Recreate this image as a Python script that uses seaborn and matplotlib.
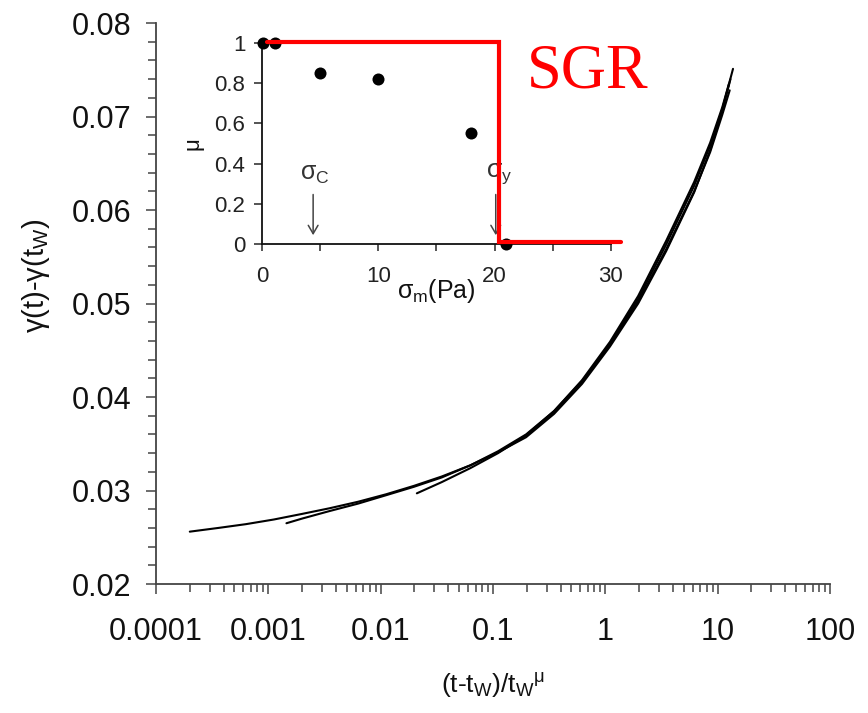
import matplotlib
matplotlib.use("Agg")
import matplotlib.pyplot as plt
import matplotlib.ticker as mticker
import numpy as np
import pandas as pd
import seaborn as sns

# main panel: collapsed creep curves (several overlapping runs)
curve_a_x = [2.0e-4, 3.6e-4, 6.3e-4, 1.12e-3, 2.0e-3, 3.5e-3, 6.3e-3, 0.0112, 0.0198, 0.035, 0.063,
             0.111, 0.197, 0.35, 0.62, 1.10, 1.96, 3.48, 6.18, 8.58, 11.0, 13.7]
curve_a_y = [0.0256, 0.0260, 0.0264, 0.0269, 0.0275, 0.0281, 0.0288, 0.0296, 0.0305, 0.0315, 0.0327,
             0.0341, 0.0359, 0.0384, 0.0416, 0.0457, 0.0505, 0.0563, 0.0626, 0.0669, 0.0708, 0.0751]
curve_b_x = [1.45e-3, 2.0e-3, 3.5e-3, 6.3e-3, 0.0112, 0.0198, 0.035, 0.063, 0.111, 0.197, 0.35,
             0.62, 1.10, 1.96, 3.48, 6.18, 8.58, 11.0, 12.8]
curve_b_y = [0.0265, 0.0270, 0.0278, 0.0286, 0.0295, 0.0304, 0.0314, 0.0327, 0.0342, 0.0360, 0.0385,
             0.0417, 0.0456, 0.0502, 0.0558, 0.0620, 0.0662, 0.0702, 0.0728]
curve_c_x = [0.021, 0.035, 0.063, 0.111, 0.197, 0.35, 0.62, 1.10, 1.96, 3.48, 6.18, 8.58, 11.0, 12.6]
curve_c_y = [0.0297, 0.0309, 0.0324, 0.0340, 0.0359, 0.0385, 0.0418, 0.0459, 0.0508, 0.0567, 0.0630,
             0.0672, 0.0710, 0.0735]
curve_d_x = [0.1, 0.197, 0.35, 0.62, 1.10, 1.96, 3.48, 6.18, 8.58, 11.0, 13.0]
curve_d_y = [0.0338, 0.0357, 0.0382, 0.0414, 0.0454, 0.0500, 0.0556, 0.0619, 0.0664, 0.0706, 0.0740]

# inset: mu versus sigma_m
sigma_m = [0.1, 1.1, 5.0, 10.0, 18.0, 21.0]
mu_vals = [1.0, 1.0, 0.85, 0.82, 0.55, 0.0]
sgr_x = [0.4, 20.4, 20.4, 30.9]
sgr_y = [1.005, 1.005, 0.01, 0.01]

sns.set_style("ticks")
plt.rcParams["font.family"] = ["Liberation Sans", "DejaVu Sans"]
plt.rcParams["mathtext.fontset"] = "custom"
plt.rcParams["mathtext.rm"] = "Liberation Sans"
plt.rcParams["mathtext.it"] = "Liberation Sans"
plt.rcParams["mathtext.bf"] = "Liberation Sans:bold"

runs = []
for name, xs, ys in [("a", curve_a_x, curve_a_y), ("b", curve_b_x, curve_b_y),
                     ("c", curve_c_x, curve_c_y), ("d", curve_d_x, curve_d_y)]:
    runs.append(pd.DataFrame({"run": name, "x": xs, "y": ys}))
df = pd.concat(runs, ignore_index=True)

fig = plt.figure(figsize=(8.68, 7.13), dpi=100)
ax = fig.add_axes([0.1797, 0.1809, 0.7765, 0.7868])

sns.lineplot(data=df, x="x", y="y", units="run", estimator=None, color="black", lw=1.5, ax=ax)
ax.set_xscale("log")
ax.set_xlim(1e-4, 100)
ax.set_ylim(0.02, 0.08)
ax.xaxis.set_major_locator(mticker.LogLocator(base=10, numticks=10))
ax.xaxis.set_minor_locator(mticker.LogLocator(base=10, subs=np.arange(2, 10), numticks=20))
ax.xaxis.set_major_formatter(mticker.FuncFormatter(lambda v, p: "%g" % v))
ax.xaxis.set_minor_formatter(mticker.NullFormatter())
ax.yaxis.set_major_locator(mticker.MultipleLocator(0.01))
ax.yaxis.set_minor_locator(mticker.MultipleLocator(0.002))
ax.yaxis.set_major_formatter(mticker.FormatStrFormatter("%.2f"))

sns.despine(ax=ax)
for s in ["left", "bottom"]:
    ax.spines[s].set_color("#444444")
    ax.spines[s].set_linewidth(1.3)
ax.tick_params(axis="x", which="major", length=7, width=1.1, color="#444444", labelsize=22, pad=17, labelcolor="#111111")
ax.tick_params(axis="x", which="minor", length=6, width=1.1, color="#444444")
ax.tick_params(axis="y", which="major", length=7, width=1.1, color="#444444", labelsize=22, pad=11, labelcolor="#111111")
ax.tick_params(axis="y", which="minor", length=6, width=1.1, color="#444444")

ax.set_xlabel("(t-t$_W$)/t$_W{}^{\\mu}$", fontsize=19, color="#111111")
ax.set_ylabel("\u03b3(t)-\u03b3(t$_W$)", fontsize=21, color="#111111")
ax.xaxis.set_label_coords(0.5, -0.155)
ax.yaxis.set_label_coords(-0.155, 0.55)

# inset
axin = fig.add_axes([0.3018, 0.6578, 0.402, 0.2819])
axin.patch.set_alpha(0)
sns.scatterplot(x=sigma_m, y=mu_vals, color="black", s=75, edgecolor="black", linewidth=0, ax=axin, clip_on=False, zorder=3)
axin.plot(sgr_x, sgr_y, color="#ff0000", lw=3, clip_on=False, zorder=4, solid_joinstyle="miter")
axin.set_xlim(0, 30)
axin.set_ylim(0, 1)
axin.xaxis.set_major_locator(mticker.MultipleLocator(10))
axin.xaxis.set_minor_locator(mticker.MultipleLocator(5))
axin.yaxis.set_major_locator(mticker.MultipleLocator(0.2))
axin.yaxis.set_major_formatter(mticker.FuncFormatter(lambda v, p: "%g" % round(v, 2)))
sns.despine(ax=axin)
for s in ["left", "bottom"]:
    axin.spines[s].set_color("#111111")
    axin.spines[s].set_linewidth(1.3)
axin.tick_params(axis="x", which="both", length=5, width=1.1, labelsize=16, pad=11, labelcolor="#222222")
axin.tick_params(axis="y", which="major", length=6, width=1.1, labelsize=16, pad=6, labelcolor="#222222")
axin.set_xlabel("\u03c3$_m$(Pa)", fontsize=18, color="#111111", labelpad=-7)
axin.set_ylabel("\u03bc", fontsize=16, color="#111111", labelpad=8)

arrow_kw = dict(arrowstyle="->,head_length=0.6,head_width=0.35", color="#444444", lw=1.1)
axin.annotate("", xy=(4.4, 0.03), xytext=(4.4, 0.26), arrowprops=arrow_kw)
axin.annotate("", xy=(20.1, 0.03), xytext=(20.1, 0.26), arrowprops=arrow_kw)
axin.text(4.5, 0.35, "\u03c3$_C$", fontsize=18, color="#333333", ha="center", va="center")
axin.text(20.4, 0.35, "\u03c3$_y$", fontsize=18, color="#333333", ha="center", va="center")

fig.text(588 / 868, 1 - 88 / 713, "SGR", color="#ff0000", fontsize=45,
         family=["Liberation Serif", "DejaVu Serif"], ha="center", va="baseline")

fig.savefig("out.png", dpi=100)
